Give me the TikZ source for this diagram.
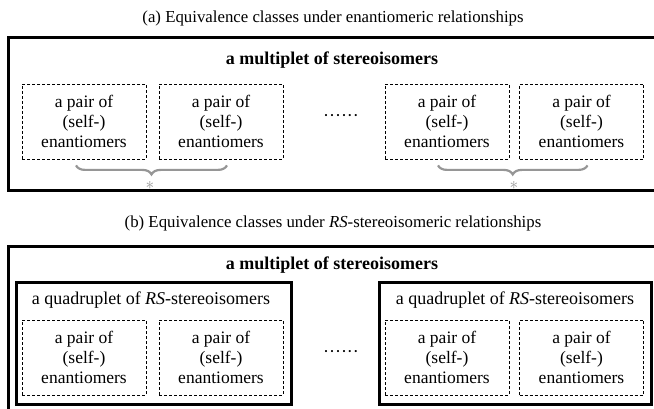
\documentclass[tikz,border=0pt]{standalone}
\usepackage{fontspec}
\setmainfont{Liberation Serif}
\usetikzlibrary{decorations.pathreplacing}
\definecolor{bracegray}{RGB}{150,150,150}
\tikzset{
  pairbox/.style={draw, dashed, dash pattern=on 3pt off 2pt, line width=0.8pt,
    minimum width=124pt, minimum height=75pt, inner sep=0pt,
    align=center, font=\fontsize{17.5}{20}\selectfont},
  frame/.style={draw, line width=3pt, inner sep=0pt},
  quadbox/.style={draw, line width=3pt, inner sep=0pt},
  caption/.style={font=\fontsize{16.8}{19}\selectfont, inner sep=0pt},
  titletext/.style={font=\fontsize{18}{20}\selectfont\bfseries, inner sep=0pt},
  quadtext/.style={font=\fontsize{18}{20}\selectfont, inner sep=0pt},
  dots/.style={font=\fontsize{18}{20}\selectfont, inner sep=0pt},
  bracedeco/.style={draw=bracegray, line width=2.2pt,
    decorate, decoration={brace, mirror, amplitude=9pt}},
  star/.style={text=bracegray, font=\fontsize{17}{17}\selectfont, inner sep=0pt}
}
\newcommand{\pairtext}{a pair of\\(self-)\\enantiomers}
\begin{document}
\begin{tikzpicture}[x=1pt,y=-1pt]
\clip (0,0) rectangle (654,409);
\fill[white] (0,0) rectangle (654,409);
% ---------- (a) ----------
\node[caption] (capa) at (333,18) {(a) Equivalence classes under enantiomeric relationships};
\node[frame, minimum width=649pt, minimum height=153pt] (fa) at (332.5,114.2) {};
\node[titletext] (ta) at (332,60) {a multiplet of stereoisomers};
\node[pairbox] (a1) at (84,121.5) {\pairtext};
\node[pairbox] (a2) at (221,121.5) {\pairtext};
\node[pairbox] (a3) at (447,121.5) {\pairtext};
\node[pairbox] (a4) at (581.5,121.5) {\pairtext};
\node[dots] (da) at (341,118) {\textperiodcentered\textperiodcentered\textperiodcentered\textperiodcentered\textperiodcentered\textperiodcentered};
\draw[bracedeco] ([xshift=-8pt,yshift=-6pt]a1.south) -- ([xshift=6pt,yshift=-6pt]a2.south)
  coordinate[pos=0.5] (bra1);
\draw[bracedeco] ([xshift=-9pt,yshift=-6pt]a3.south) -- ([xshift=6pt,yshift=-6pt]a4.south)
  coordinate[pos=0.5] (bra2);
\node[star] (s1) at (150,185.5) {$\ast$};
\node[star] (s2) at (514,185.5) {$\ast$};
% ---------- (b) ----------
\node[caption] (capb) at (333,223) {(b) Equivalence classes under \textit{RS}-stereoisomeric relationships};
\node[frame, minimum width=649pt, minimum height=167pt] (fb) at (332.5,330.3) {};
\node[titletext] (tb) at (332,265) {a multiplet of stereoisomers};
\node[quadbox, minimum width=275pt, minimum height=122pt] (q1) at (153.5,343.2) {};
\node[quadbox, minimum width=272pt, minimum height=122pt] (q2) at (515,343.2) {};
\node[quadtext] (qt1) at (151,300) {a quadruplet of \textit{RS}-stereoisomers};
\node[quadtext] (qt2) at (515,300) {a quadruplet of \textit{RS}-stereoisomers};
\node[pairbox] (b1) at (84,357.5) {\pairtext};
\node[pairbox] (b2) at (221,357.5) {\pairtext};
\node[pairbox] (b3) at (447,357.5) {\pairtext};
\node[pairbox] (b4) at (581.5,357.5) {\pairtext};
\node[dots] (db) at (341,354) {\textperiodcentered\textperiodcentered\textperiodcentered\textperiodcentered\textperiodcentered\textperiodcentered};
\end{tikzpicture}
\end{document}
